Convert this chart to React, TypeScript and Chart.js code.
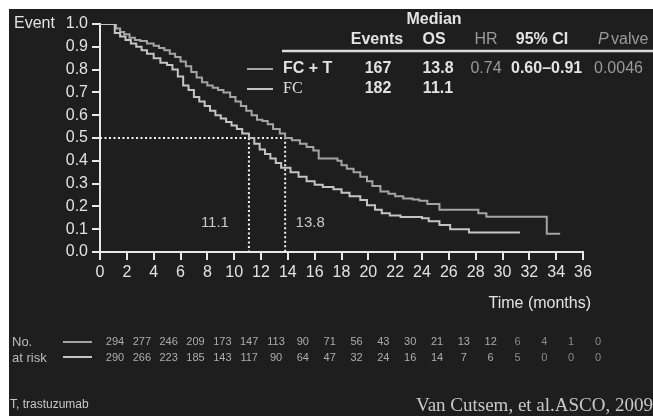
import React, { useEffect, useRef } from "react";
import { Chart, registerables } from "chart.js";

Chart.register(...registerables);

// ---- Data ----
const fctTimes = [0, 0.9, 1.2, 1.5, 1.8, 2.2, 2.6, 3.0, 3.5, 4.0, 4.4, 4.8, 5.2, 5.6, 6.0, 6.4, 6.8, 7.2, 7.6, 8.0, 8.4, 8.8, 9.2, 9.7, 10.1, 10.5, 10.9, 11.3, 11.7, 12.1, 12.5, 12.9, 13.4, 13.8, 14.3, 14.9, 15.4, 15.9, 16.3, 17.7, 18.0, 18.4, 18.9, 19.4, 19.9, 20.3, 20.9, 21.5, 22.0, 22.6, 23.3, 23.8, 24.4, 25.3, 28.2, 28.8, 33.3, 34.3];
const fctSurv = [1, 1, 0.98, 0.965, 0.955, 0.94, 0.93, 0.925, 0.915, 0.905, 0.895, 0.885, 0.87, 0.855, 0.835, 0.815, 0.79, 0.765, 0.745, 0.73, 0.72, 0.71, 0.7, 0.68, 0.66, 0.64, 0.62, 0.6, 0.58, 0.575, 0.56, 0.54, 0.52, 0.5, 0.49, 0.475, 0.46, 0.445, 0.41, 0.4, 0.38, 0.365, 0.35, 0.33, 0.31, 0.29, 0.265, 0.255, 0.245, 0.235, 0.23, 0.225, 0.21, 0.185, 0.17, 0.155, 0.08, 0.08];

const fcTimes = [0, 0.9, 1.1, 1.5, 1.9, 2.3, 2.7, 3.1, 3.5, 4.0, 4.5, 5.0, 5.4, 5.8, 6.2, 6.6, 7.0, 7.4, 7.8, 8.2, 8.6, 9.0, 9.4, 9.8, 10.2, 10.6, 11.1, 11.5, 11.9, 12.3, 12.7, 13.1, 13.5, 14.2, 14.8, 15.4, 16.0, 16.6, 17.4, 18.0, 18.6, 19.4, 19.9, 20.5, 21.0, 21.6, 22.4, 24.0, 24.5, 25.3, 26.1, 27.5, 31.3];
const fcSurv = [1, 1, 0.96, 0.945, 0.93, 0.915, 0.9, 0.885, 0.87, 0.85, 0.83, 0.82, 0.8, 0.77, 0.73, 0.71, 0.68, 0.66, 0.64, 0.62, 0.6, 0.585, 0.57, 0.555, 0.54, 0.52, 0.5, 0.475, 0.45, 0.43, 0.41, 0.39, 0.37, 0.35, 0.33, 0.31, 0.295, 0.285, 0.275, 0.26, 0.245, 0.228, 0.205, 0.185, 0.17, 0.16, 0.153, 0.148, 0.135, 0.118, 0.1, 0.085, 0.085];

const medianFCT = 13.8;
const medianFC = 11.1;
const medianLevel = 0.5;

const riskTimes = [0, 2, 4, 6, 8, 10, 12, 14, 16, 18, 20, 22, 24, 26, 28, 30, 32, 34, 36];
const riskFCT = [294, 277, 246, 209, 173, 147, 113, 90, 71, 56, 43, 30, 21, 13, 12, 6, 4, 1, 0];
const riskFC = [290, 266, 223, 185, 143, 117, 90, 64, 47, 32, 24, 16, 14, 7, 6, 5, 0, 0, 0];

const tableHeaders = ["Events", "OS", "HR", "95% CI"];
const rowFCT = ["FC + T", "167", "13.8", "0.74", "0.60–0.91", "0.0046"];
const rowFC = ["FC", "182", "11.1"];

const BG = "#1e1e1e";
const COL_FCT = "#a4a4a4";
const COL_FC = "#c4c4c4";
const TEXT = "#e2e2e2";
const DIM = "#9a9a9a";

const toPts = (t: number[], s: number[]) => t.map((x, i) => ({ x, y: s[i] }));

const SANS = "'Liberation Sans', Arial, sans-serif";
const SERIF = "'Liberation Serif', 'Times New Roman', serif";

const decor = {
  id: "decor",
  beforeDraw(chart: any) {
    const { ctx, width, height } = chart;
    ctx.save();
    ctx.fillStyle = "#ffffff";
    ctx.fillRect(0, 0, width, height);
    ctx.fillStyle = BG;
    ctx.fillRect(9, 9, width - 9, height - 9);
    ctx.restore();
  },
  afterDraw(chart: any) {
    const { ctx } = chart;
    const xs = chart.scales.x;
    const ys = chart.scales.y;
    ctx.save();
    ctx.textBaseline = "middle";

    // Axis label texts
    ctx.fillStyle = TEXT;
    ctx.font = `16px ${SANS}`;
    ctx.textAlign = "left";
    ctx.fillText("Event", 14, ys.getPixelForValue(1));
    ctx.textAlign = "right";
    ctx.fillText("Time (months)", 591, 304);

    // median labels
    ctx.fillStyle = "#c8c8c8";
    ctx.font = `15px ${SANS}`;
    ctx.textAlign = "center";
    ctx.fillText(String(medianFC), xs.getPixelForValue(medianFC) - 34, 223);
    ctx.fillText(String(medianFCT), xs.getPixelForValue(medianFCT) + 25, 223);

    // Table
    ctx.font = `bold 16px ${SANS}`;
    ctx.fillStyle = TEXT;
    ctx.textAlign = "center";
    ctx.fillText("Median", 434, 20);
    ctx.fillText(tableHeaders[0], 377, 40);
    ctx.fillText(tableHeaders[1], 434, 40);
    ctx.fillStyle = DIM;
    ctx.font = `16px ${SANS}`;
    ctx.fillText(tableHeaders[2], 486, 40);
    ctx.fillStyle = TEXT;
    ctx.font = `bold 16px ${SANS}`;
    ctx.fillText(tableHeaders[3], 542, 40);
    ctx.fillStyle = DIM;
    ctx.textAlign = "left";
    ctx.font = `italic 16px ${SANS}`;
    ctx.fillText("P", 598, 40);
    ctx.font = `16px ${SANS}`;
    ctx.fillText("valve", 611, 40);

    ctx.strokeStyle = "#dcdcdc";
    ctx.lineWidth = 2.5;
    ctx.beginPath();
    ctx.moveTo(282, 51);
    ctx.lineTo(653, 51);
    ctx.stroke();

    // legend lines
    ctx.lineWidth = 2;
    ctx.strokeStyle = COL_FCT;
    ctx.beginPath();
    ctx.moveTo(247, 69);
    ctx.lineTo(273, 69);
    ctx.stroke();
    ctx.strokeStyle = COL_FC;
    ctx.beginPath();
    ctx.moveTo(247, 89);
    ctx.lineTo(273, 89);
    ctx.stroke();

    // row 1
    ctx.fillStyle = TEXT;
    ctx.textAlign = "left";
    ctx.font = `bold 16px ${SANS}`;
    ctx.fillText(rowFCT[0], 283, 69);
    ctx.textAlign = "center";
    ctx.fillText(rowFCT[1], 378, 69);
    ctx.fillText(rowFCT[2], 438, 69);
    ctx.fillStyle = DIM;
    ctx.font = `16px ${SANS}`;
    ctx.fillText(rowFCT[3], 486, 69);
    ctx.fillStyle = TEXT;
    ctx.font = `bold 16px ${SANS}`;
    ctx.textAlign = "left";
    ctx.fillText(rowFCT[4], 511, 69);
    ctx.fillStyle = DIM;
    ctx.font = `16px ${SANS}`;
    ctx.fillText(rowFCT[5], 594, 69);

    // row 2
    ctx.fillStyle = TEXT;
    ctx.font = `16px ${SERIF}`;
    ctx.fillText(rowFC[0], 283, 89);
    ctx.font = `bold 16px ${SANS}`;
    ctx.textAlign = "center";
    ctx.fillText(rowFC[1], 378, 89);
    ctx.fillText(rowFC[2], 438, 89);

    // Number at risk
    ctx.fillStyle = "#bdbdbd";
    ctx.font = `13px ${SANS}`;
    ctx.textAlign = "left";
    ctx.fillText("No.", 12, 342);
    ctx.fillText("at risk", 12, 358);
    ctx.lineWidth = 2;
    ctx.strokeStyle = COL_FCT;
    ctx.beginPath();
    ctx.moveTo(63, 342);
    ctx.lineTo(92, 342);
    ctx.stroke();
    ctx.strokeStyle = COL_FC;
    ctx.beginPath();
    ctx.moveTo(63, 357);
    ctx.lineTo(92, 357);
    ctx.stroke();

    ctx.font = `11px ${SANS}`;
    ctx.textAlign = "center";
    riskTimes.forEach((t, i) => {
      const px = xs.getPixelForValue(t) + 15;
      ctx.fillStyle = i >= 15 ? "#8a8a8a" : "#adadad";
      ctx.fillText(String(riskFCT[i]), px, 342);
      ctx.fillText(String(riskFC[i]), px, 358);
    });

    // footer
    ctx.fillStyle = "#c8c8c8";
    ctx.font = `12px ${SANS}`;
    ctx.textAlign = "left";
    ctx.fillText("T, trastuzumab", 10, 405);
    ctx.font = `19px ${SERIF}`;
    ctx.textAlign = "right";
    ctx.fillText("Van Cutsem, et al.ASCO, 2009", 653, 406);

    ctx.restore();
  },
};

export default function App() {
  const ref = useRef<HTMLCanvasElement | null>(null);
  useEffect(() => {
    if (!ref.current) return;
    const chart = new Chart(ref.current, {
      type: "line",
      data: {
        datasets: [
          {
            label: "FC",
            data: toPts(fcTimes, fcSurv),
            borderColor: COL_FC,
            borderWidth: 2,
            pointRadius: 0,
            stepped: "before",
            fill: false,
          },
          {
            label: "FC + T",
            data: toPts(fctTimes, fctSurv),
            borderColor: COL_FCT,
            borderWidth: 2,
            pointRadius: 0,
            stepped: "before",
            fill: false,
          },
          {
            label: "median FC+T",
            data: [
              { x: 0, y: medianLevel },
              { x: medianFCT, y: medianLevel },
              { x: medianFCT, y: 0 },
            ],
            borderColor: "#f2f2f2",
            borderWidth: 2,
            borderDash: [2, 2.5],
            pointRadius: 0,
            fill: false,
          },
          {
            label: "median FC",
            data: [
              { x: medianFC, y: medianLevel },
              { x: medianFC, y: 0 },
            ],
            borderColor: "#f2f2f2",
            borderWidth: 2,
            borderDash: [2, 2.5],
            pointRadius: 0,
            fill: false,
          },
        ],
      },
      options: {
        responsive: false,
        animation: false,
        devicePixelRatio: 1,
        layout: { padding: { left: 0, top: 24, right: 70, bottom: 0 } },
        plugins: { legend: { display: false }, tooltip: { enabled: false } },
        scales: {
          x: {
            type: "linear",
            min: 0,
            max: 36,
            ticks: { stepSize: 2, color: TEXT, font: { size: 16, family: SANS }, padding: 3, maxRotation: 0 },
            grid: { drawOnChartArea: false, drawTicks: true, tickLength: 8, color: "#e8e8e8", lineWidth: 2 },
            border: { color: "#e8e8e8", width: 2 },
            afterFit: (s: any) => {
              s.height = 164;
            },
          },
          y: {
            type: "linear",
            min: 0,
            max: 1,
            ticks: {
              stepSize: 0.1,
              color: TEXT,
              font: { size: 16, family: SANS },
              padding: 4,
              callback: (v: any) => Number(v).toFixed(1),
            },
            grid: { drawOnChartArea: false, drawTicks: true, tickLength: 8, color: "#e8e8e8", lineWidth: 2 },
            border: { color: "#e8e8e8", width: 2 },
            afterFit: (s: any) => {
              s.width = 100;
            },
          },
        },
      },
      plugins: [decor],
    });
    return () => chart.destroy();
  }, []);
  return (
    <div style={{ position: "absolute", left: 0, top: 0, width: 653, height: 416 }}>
      <canvas ref={ref} width={653} height={416} style={{ width: 653, height: 416, display: "block" }} />
    </div>
  );
}
